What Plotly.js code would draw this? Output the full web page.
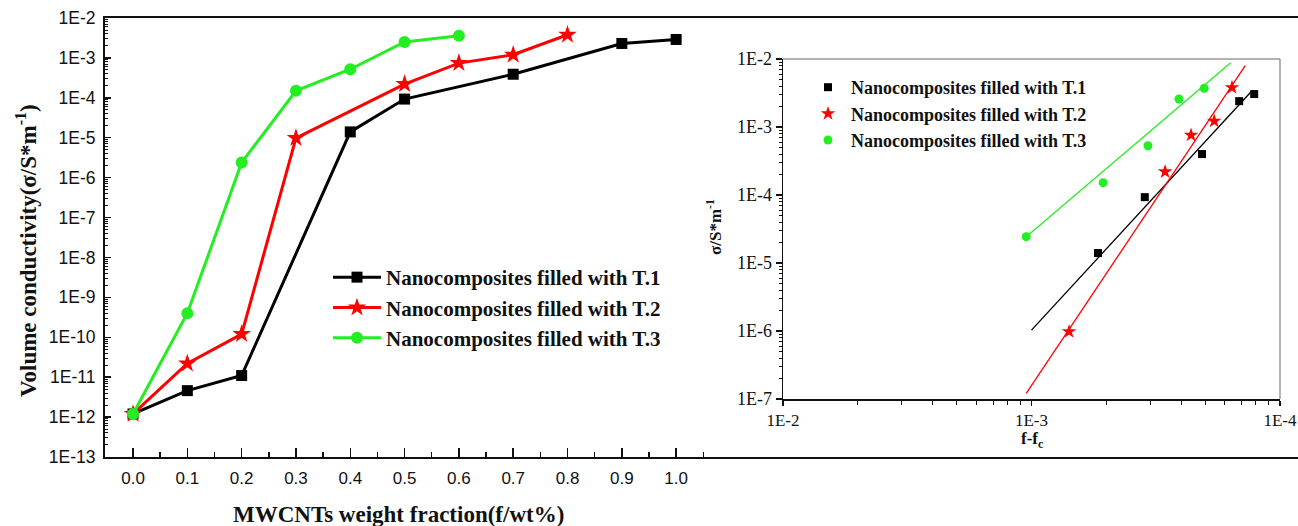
<!DOCTYPE html>
<html>
<head>
<meta charset="utf-8">
<script src="https://cdn.plot.ly/plotly-3.0.1.min.js"></script>
<style>html,body{margin:0;padding:0;background:#fff;}#chart{width:1298px;height:526px;}</style>
</head>
<body>
<div id="chart"></div>
<script>
// ---------- Main chart data ----------
const seriesNames = ["Nanocomposites filled with T.1", "Nanocomposites filled with T.2", "Nanocomposites filled with T.3"];
const t1Frac = [0.0, 0.1, 0.2, 0.4, 0.5, 0.7, 0.9, 1.0];
const t1Cond = [1.2e-12, 4.6e-12, 1.1e-11, 1.4e-5, 9.3e-5, 3.9e-4, 2.3e-3, 2.9e-3];
const t2Frac = [0.0, 0.1, 0.2, 0.3, 0.5, 0.6, 0.7, 0.8];
const t2Cond = [1.2e-12, 2.2e-11, 1.2e-10, 9.8e-6, 2.2e-4, 7.4e-4, 1.2e-3, 3.8e-3];
const t3Frac = [0.0, 0.1, 0.2, 0.3, 0.4, 0.5, 0.6];
const t3Cond = [1.2e-12, 4.0e-10, 2.4e-6, 1.5e-4, 5.2e-4, 2.5e-3, 3.6e-3];

const mainXTicks = [0.0, 0.1, 0.2, 0.3, 0.4, 0.5, 0.6, 0.7, 0.8, 0.9, 1.0];
const mainXTickText = ["0.0", "0.1", "0.2", "0.3", "0.4", "0.5", "0.6", "0.7", "0.8", "0.9", "1.0"];
const mainYTicks = [1e-13, 1e-12, 1e-11, 1e-10, 1e-9, 1e-8, 1e-7, 1e-6, 1e-5, 1e-4, 1e-3, 1e-2];
const mainYTickText = ["1E-13", "1E-12", "1E-11", "1E-10", "1E-9", "1E-8", "1E-7", "1E-6", "1E-5", "1E-4", "1E-3", "1E-2"];

// ---------- Inset data (f - fc vs conductivity) ----------
const in1X = [5.4e-4, 3.5e-4, 2.06e-4, 1.46e-4, 1.27e-4];
const in1Y = [1.4e-5, 9.3e-5, 4.0e-4, 2.4e-3, 3.05e-3];
const in2X = [7.06e-4, 2.9e-4, 2.28e-4, 1.84e-4, 1.56e-4];
const in2Y = [9.8e-7, 2.2e-4, 7.6e-4, 1.22e-3, 3.8e-3];
const in3X = [1.05e-3, 5.15e-4, 3.4e-4, 2.55e-4, 2.02e-4];
const in3Y = [2.44e-5, 1.52e-4, 5.3e-4, 2.58e-3, 3.7e-3];
const fit1X = [1.0e-3, 1.31e-4];
const fit1Y = [1.03e-6, 3.27e-3];
const fit2X = [1.05e-3, 1.38e-4];
const fit2Y = [1.21e-7, 7.97e-3];
const fit3X = [1.05e-3, 1.58e-4];
const fit3Y = [2.44e-5, 8.8e-3];

const insetXTicks = [1e-2, 1e-3, 1e-4];
const insetXTickText = ["1E-2", "1E-3", "1E-4"];
const insetYTicks = [1e-7, 1e-6, 1e-5, 1e-4, 1e-3, 1e-2];
const insetYTickText = ["1E-7", "1E-6", "1E-5", "1E-4", "1E-3", "1E-2"];

// ---------- styling ----------
const W = 1298, H = 526;
const BLACK = "#000000", RED = "#ff0000", GREEN = "#22ee22";
const serifB = {family: "Liberation Serif, Times New Roman, serif", color: "#111", weight: "bold"};

function logMinor(dLo, dHi) {
  const v = [];
  for (let d = dLo; d < dHi; d++) for (let k = 2; k <= 9; k++) v.push(k * Math.pow(10, d));
  return v;
}
function recipMinor(dLo, dHi) {
  const v = [];
  for (let d = dHi; d > dLo; d--) for (let k = 2; k <= 9; k++) v.push(Math.pow(10, d) / k);
  return v;
}
const mainXMinor = [];
for (let i = 0; i <= 10; i++) mainXMinor.push(0.05 + i * 0.1);

const traces = [
  {x: t1Frac, y: t1Cond, name: seriesNames[0], mode: "lines+markers", xaxis: "x", yaxis: "y",
   line: {color: BLACK, width: 3}, marker: {symbol: "square", size: 11, color: BLACK}, legendgroup: "a"},
  {x: t2Frac, y: t2Cond, name: seriesNames[1], mode: "lines+markers", xaxis: "x", yaxis: "y",
   line: {color: RED, width: 3}, marker: {symbol: "star", size: 14, color: RED}, legendgroup: "b"},
  {x: t3Frac, y: t3Cond, name: seriesNames[2], mode: "lines+markers", xaxis: "x", yaxis: "y",
   line: {color: GREEN, width: 3}, marker: {symbol: "circle", size: 12, color: GREEN}, legendgroup: "c"},
  {x: fit1X, y: fit1Y, mode: "lines", xaxis: "x2", yaxis: "y2", showlegend: false, line: {color: BLACK, width: 1.3}},
  {x: fit2X, y: fit2Y, mode: "lines", xaxis: "x2", yaxis: "y2", showlegend: false, line: {color: RED, width: 1.3}},
  {x: fit3X, y: fit3Y, mode: "lines", xaxis: "x2", yaxis: "y2", showlegend: false, line: {color: GREEN, width: 1.3}},
  {x: in1X, y: in1Y, name: seriesNames[0], mode: "markers", xaxis: "x2", yaxis: "y2", legend: "legend2",
   marker: {symbol: "square", size: 8, color: BLACK}, legendgroup: "d"},
  {x: in2X, y: in2Y, name: seriesNames[1], mode: "markers", xaxis: "x2", yaxis: "y2", legend: "legend2",
   marker: {symbol: "star", size: 11, color: RED}, legendgroup: "e"},
  {x: in3X, y: in3Y, name: seriesNames[2], mode: "markers", xaxis: "x2", yaxis: "y2", legend: "legend2",
   marker: {symbol: "circle", size: 9, color: GREEN}, legendgroup: "f"}
];

const px = v => v / W;
const py = v => 1 - v / H;

const layout = {
  width: W, height: H,
  margin: {l: 0, r: 0, t: 0, b: 0},
  paper_bgcolor: "#fff", plot_bgcolor: "rgba(0,0,0,0)",
  showlegend: true,
  xaxis: {
    domain: [px(105), 1], range: [-0.0516, 2.145], anchor: "y",
    showline: true, linecolor: "#111", linewidth: 2, mirror: true,
    showgrid: false, zeroline: false,
    tickmode: "array", tickvals: mainXTicks, ticktext: mainXTickText,
    ticks: "inside", ticklen: 9, tickwidth: 1.5, tickcolor: "#111",
    ticklabelstandoff: 5,
    tickfont: {family: "Liberation Sans, Arial, sans-serif", size: 17, color: "#111"},
    minor: {tickmode: "array", tickvals: mainXMinor, ticks: "inside", ticklen: 5, tickwidth: 1.5, tickcolor: "#111", showgrid: false}
  },
  yaxis: {
    domain: [py(457), py(18)], type: "log", range: [-13, -2], anchor: "x",
    showline: true, linecolor: "#111", linewidth: 2, mirror: false,
    showgrid: false, zeroline: false,
    tickmode: "array", tickvals: mainYTicks, ticktext: mainYTickText,
    ticks: "inside", ticklen: 6, tickwidth: 1.5, tickcolor: "#111",
    ticklabelstandoff: 4,
    tickfont: {family: "Liberation Sans, Arial, sans-serif", size: 17.5, color: "#111"},
    minor: {tickmode: "array", tickvals: logMinor(-13, -2), ticks: "inside", ticklen: 3, tickwidth: 1, tickcolor: "#111", showgrid: false}
  },
  xaxis2: {
    domain: [px(783), px(1280)], type: "log", range: [-2, -4], anchor: "y2",
    showline: true, linecolor: "#111", linewidth: 1.5, mirror: false,
    showgrid: false, zeroline: false,
    tickmode: "array", tickvals: insetXTicks, ticktext: insetXTickText,
    ticks: "outside", ticklen: 5, tickwidth: 1.2, tickcolor: "#111",
    ticklabelstandoff: 0,
    tickfont: {family: "Liberation Serif, Times New Roman, serif", size: 17, color: "#111"},
    minor: {tickmode: "array", tickvals: recipMinor(-4, -2), ticks: "outside", ticklen: 4, tickwidth: 1, tickcolor: "#111", showgrid: false}
  },
  yaxis2: {
    domain: [py(399), py(59)], type: "log", range: [-7, -2], anchor: "x2",
    showline: true, linecolor: "#111", linewidth: 1.5, mirror: false,
    showgrid: false, zeroline: false,
    tickmode: "array", tickvals: insetYTicks, ticktext: insetYTickText,
    ticks: "outside", ticklen: 6, tickwidth: 1.2, tickcolor: "#111",
    ticklabelstandoff: 0,
    tickfont: {family: "Liberation Serif, Times New Roman, serif", size: 18, color: "#111"},
    minor: {tickmode: "array", tickvals: logMinor(-7, -2), ticks: "outside", ticklen: 3, tickwidth: 1, tickcolor: "#111", showgrid: false}
  },
  legend: {
    x: px(328), y: py(257), xanchor: "left", yanchor: "top",
    bgcolor: "rgba(0,0,0,0)", borderwidth: 0,
    font: Object.assign({}, serifB, {size: 21}),
    itemwidth: 48, tracegroupgap: 0
  },
  legend2: {
    x: px(805), y: py(69), xanchor: "left", yanchor: "top",
    bgcolor: "rgba(0,0,0,0)", borderwidth: 0,
    font: Object.assign({}, serifB, {size: 18}),
    itemwidth: 36, tracegroupgap: 0
  },
  shapes: [
    {type: "line", xref: "paper", yref: "paper", x0: px(783), x1: px(1280), y0: py(59), y1: py(59), line: {color: "#999", width: 1.5}, layer: "below"},
    {type: "line", xref: "paper", yref: "paper", x0: px(1280), x1: px(1280), y0: py(59), y1: py(399), line: {color: "#999", width: 1.5}, layer: "below"}
  ],
  annotations: [
    {text: "Volume conductivity(σ/S*m<sup>-1</sup>)", xref: "paper", yref: "paper", x: px(26), y: py(251), textangle: -90,
     showarrow: false, xanchor: "center", yanchor: "middle", font: Object.assign({}, serifB, {size: 23})},
    {text: "MWCNTs weight fraction(f/wt%)", xref: "paper", yref: "paper", x: px(398), y: py(514),
     showarrow: false, xanchor: "center", yanchor: "middle", font: Object.assign({}, serifB, {size: 23})},
    {text: "σ/S*m<sup>-1</sup>", xref: "paper", yref: "paper", x: px(714), y: py(227), textangle: -90,
     showarrow: false, xanchor: "center", yanchor: "middle", font: Object.assign({}, serifB, {size: 17})},
    {text: "f-f<sub>c</sub>", xref: "paper", yref: "paper", x: px(1032), y: py(440),
     showarrow: false, xanchor: "center", yanchor: "middle", font: Object.assign({}, serifB, {size: 17})}
  ]
};

Plotly.newPlot("chart", traces, layout, {displayModeBar: false, staticPlot: true});
</script>
</body>
</html>
